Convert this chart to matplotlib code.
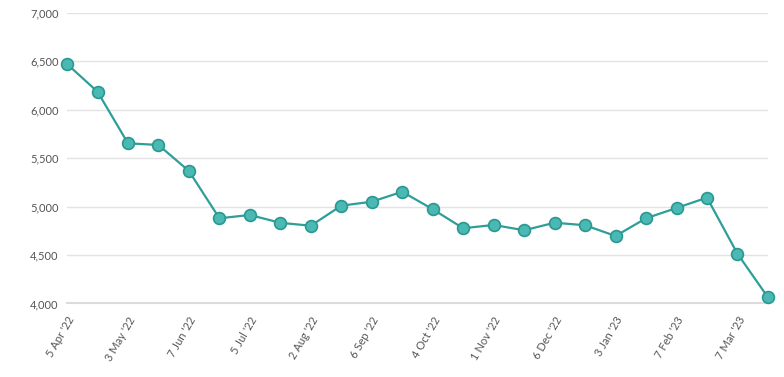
import matplotlib.pyplot as plt

# Data
dates = ["5 Apr '22", "19 Apr '22", "3 May '22", "17 May '22", "7 Jun '22", "21 Jun '22",
         "5 Jul '22", "19 Jul '22", "2 Aug '22", "16 Aug '22", "6 Sep '22", "20 Sep '22",
         "4 Oct '22", "18 Oct '22", "1 Nov '22", "15 Nov '22", "6 Dec '22", "20 Dec '22",
         "3 Jan '23", "17 Jan '23", "7 Feb '23", "21 Feb '23", "7 Mar '23", "21 Mar '23"]
values = [6473, 6187, 5654, 5637, 5368, 4880, 4914, 4833, 4803, 5010, 5051, 5154,
          4973, 4777, 4811, 4756, 4834, 4808, 4697, 4880, 4986, 5093, 4514, 4064]
y_ticks = [4000, 4500, 5000, 5500, 6000, 6500, 7000]

plt.rcParams['font.family'] = ['Lato', 'DejaVu Sans']

fig = plt.figure(figsize=(7.84, 3.77), dpi=100)
ax = fig.add_axes([0.0855, 0.195, 0.894, 0.7706])

x = list(range(len(values)))
ax.plot(x, values, color='#2e9e99', linewidth=1.6, marker='o', markersize=8.5,
        markerfacecolor='#4ab9b4', markeredgecolor='#2a9791', markeredgewidth=1.2,
        clip_on=False, zorder=3)

ax.set_xlim(0, len(values) - 1)
ax.set_ylim(4000, 7000)
ax.set_yticks(y_ticks)
ax.set_yticklabels([f"{v:,}" for v in y_ticks])
ax.set_xticks(x[::2])
ax.set_xticklabels(dates[::2], rotation=60, ha='right', va='top', rotation_mode='anchor')

ax.grid(axis='y', color='#e3e3e3', linewidth=1)
ax.set_axisbelow(True)
for s in ['top', 'right', 'left']:
    ax.spines[s].set_visible(False)
ax.spines['bottom'].set_color('#dcdcdc')
ax.spines['bottom'].set_linewidth(1.5)
ax.tick_params(axis='both', length=0, colors='#555555', labelsize=8)
ax.tick_params(axis='y', pad=6)
ax.tick_params(axis='x', pad=8)

fig.savefig("out.png", dpi=100)
plt.close()
